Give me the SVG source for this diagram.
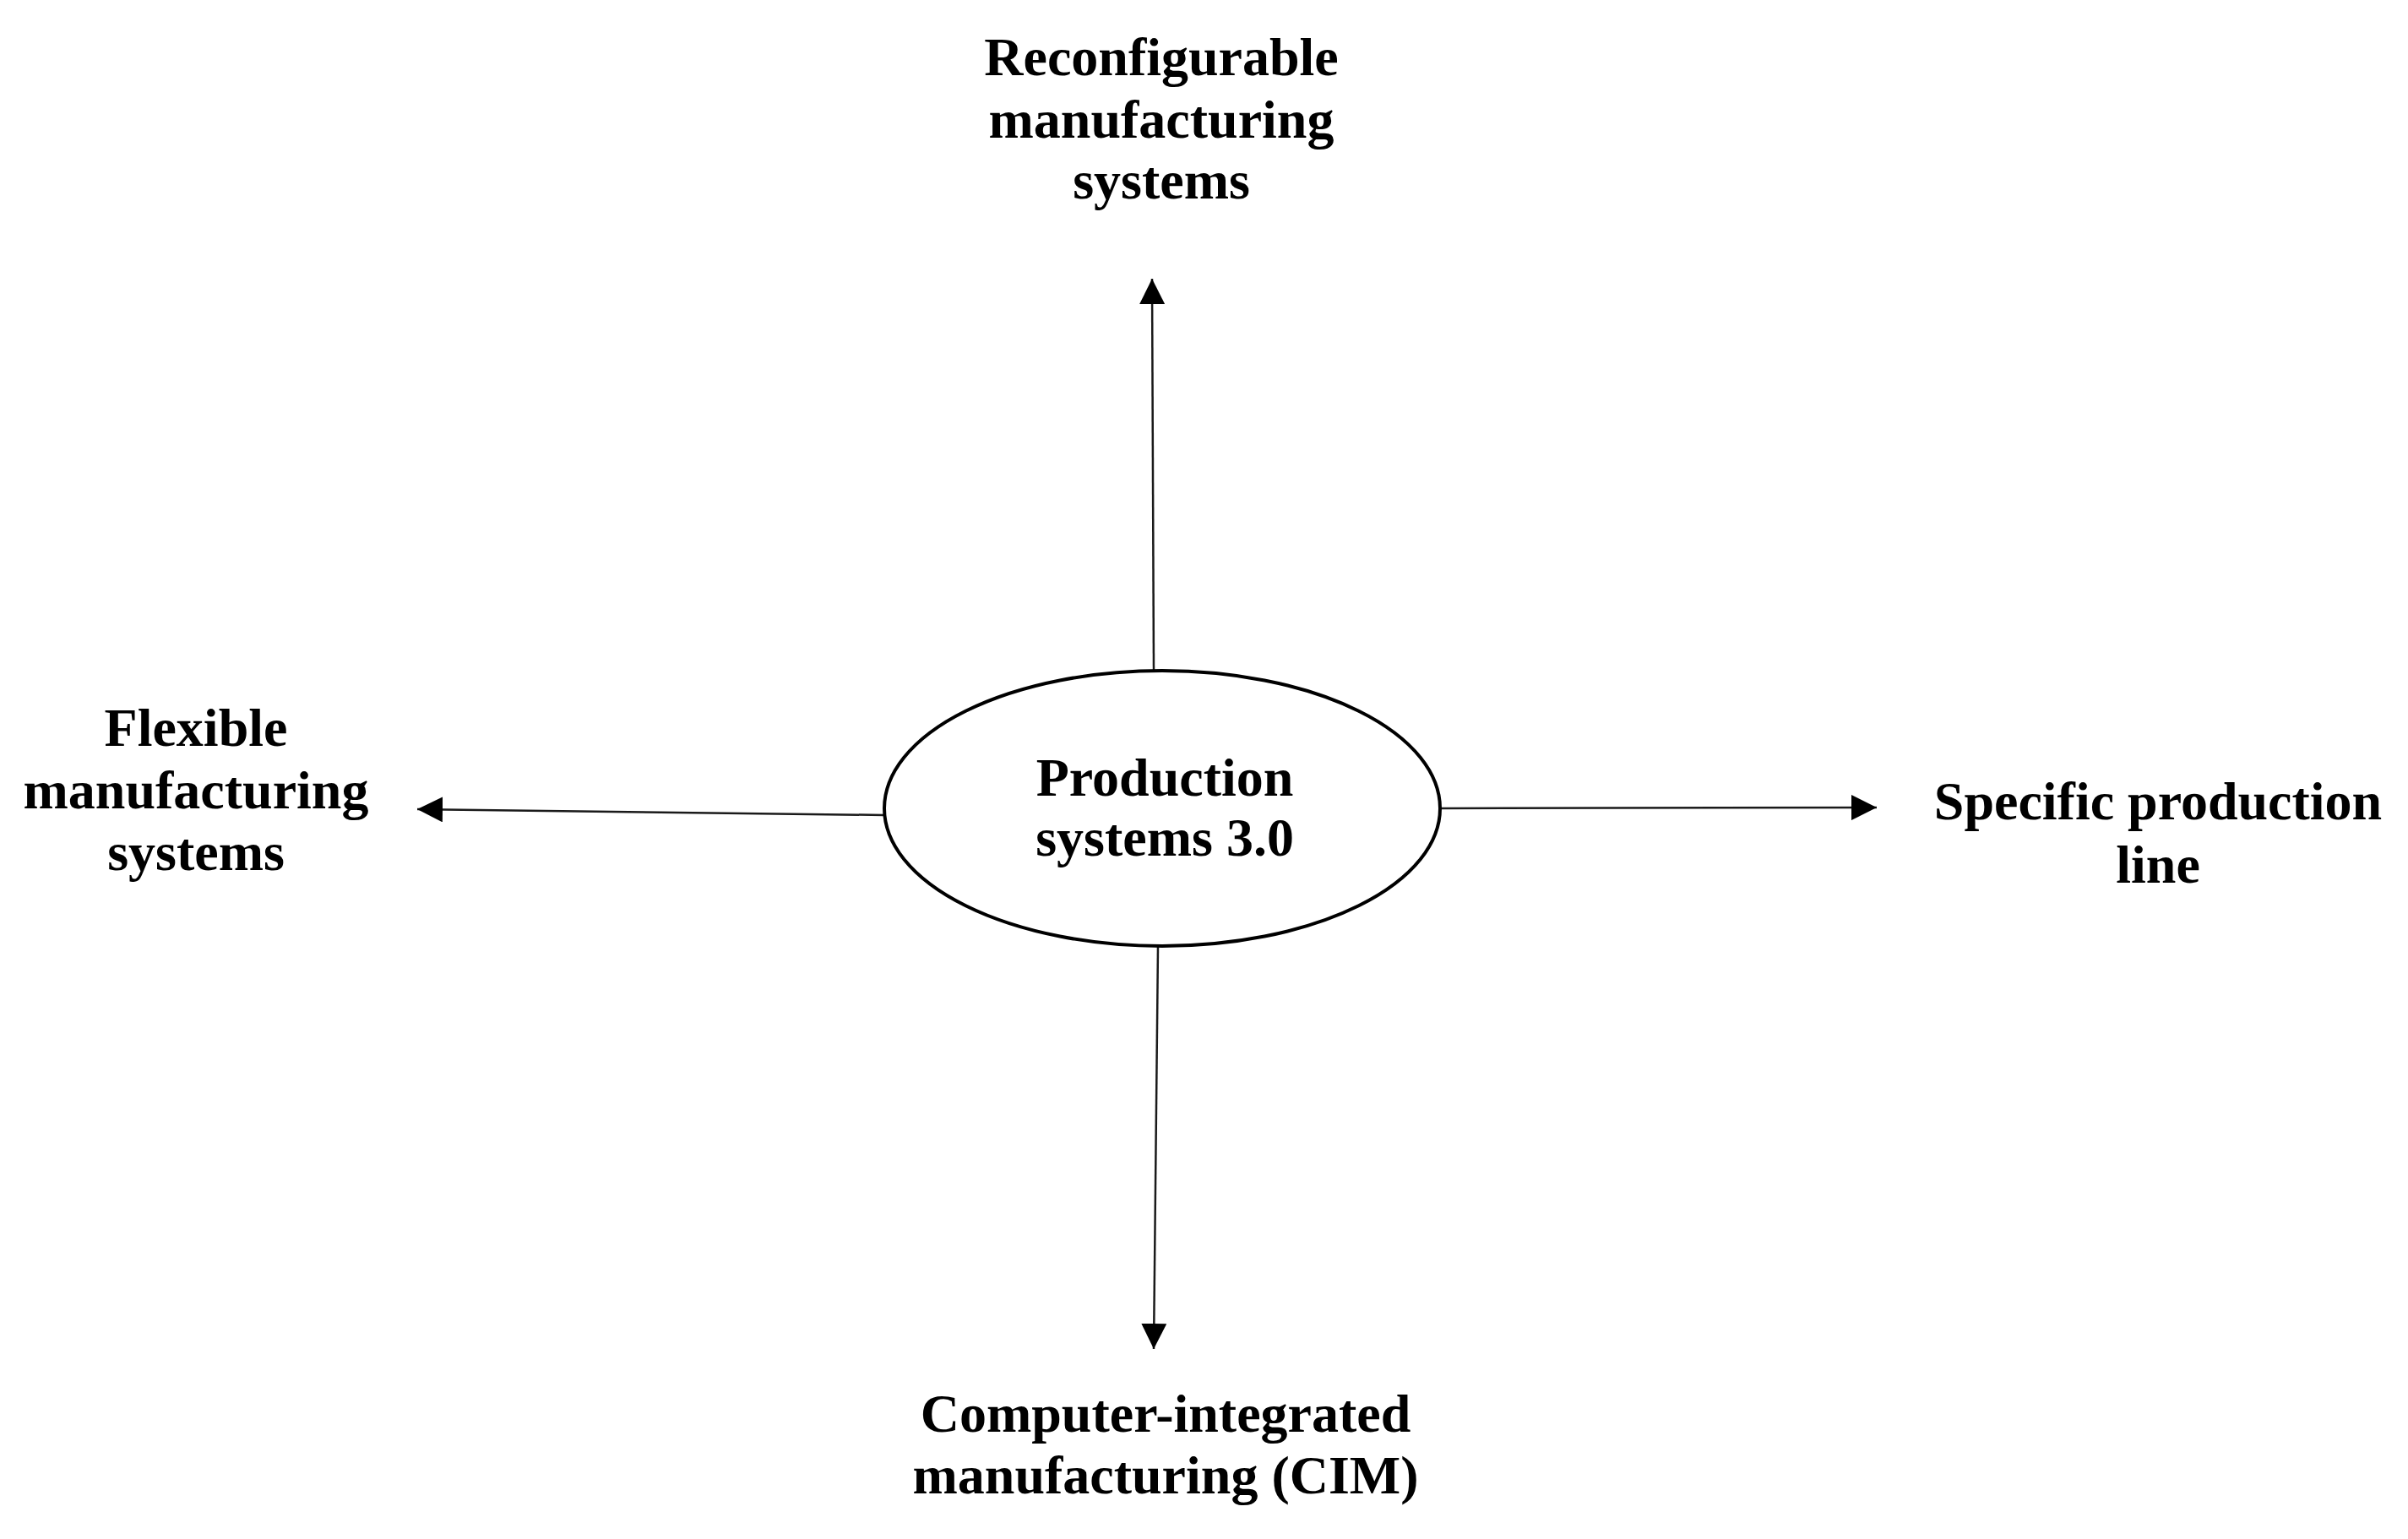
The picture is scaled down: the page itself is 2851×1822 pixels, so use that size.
<svg xmlns="http://www.w3.org/2000/svg" width="2851" height="1822" viewBox="0 0 2851 1822">
<defs>
<marker id="arrow" markerUnits="userSpaceOnUse" markerWidth="30" markerHeight="30" refX="30" refY="15" orient="auto" viewBox="0 0 30 30">
<path d="M0,0 L30,15 L0,30 Z" fill="#000"/>
</marker>
<style>
.lbl{font-family:"Liberation Serif","Times New Roman",serif;font-weight:bold;font-size:64px;fill:#000;text-anchor:middle}
.conn{stroke:#1a1a1a;stroke-width:2.5;fill:none}
</style>
</defs>
<rect width="2851" height="1822" fill="#fff"/>
<g id="connectors">
<line class="conn" x1="1366" y1="795" x2="1364" y2="330" marker-end="url(#arrow)"/>
<line class="conn" x1="1047" y1="965" x2="494" y2="958" marker-end="url(#arrow)"/>
<line class="conn" x1="1705" y1="957" x2="2222" y2="956" marker-end="url(#arrow)"/>
<line class="conn" x1="1371" y1="1120" x2="1366" y2="1597" marker-end="url(#arrow)"/>
</g>
<g id="center">
<ellipse cx="1376" cy="957" rx="329" ry="163" fill="#fff" stroke="#000" stroke-width="4"/>
<text class="lbl" x="1379" y="942">Production</text>
<text class="lbl" x="1379" y="1013">systems 3.0</text>
</g>
<g id="reconfigurable">
<text class="lbl" x="1375" y="89">Reconfigurable</text>
<text class="lbl" x="1375" y="163">manufacturing</text>
<text class="lbl" x="1375" y="235">systems</text>
</g>
<g id="flexible">
<text class="lbl" x="232" y="883">Flexible</text>
<text class="lbl" x="232" y="957">manufacturing</text>
<text class="lbl" x="232" y="1030">systems</text>
</g>
<g id="specific">
<text class="lbl" x="2555" y="970">Specific production</text>
<text class="lbl" x="2555" y="1045">line</text>
</g>
<g id="cim">
<text class="lbl" x="1380" y="1695">Computer-integrated</text>
<text class="lbl" x="1380" y="1768">manufacturing (CIM)</text>
</g>
</svg>
